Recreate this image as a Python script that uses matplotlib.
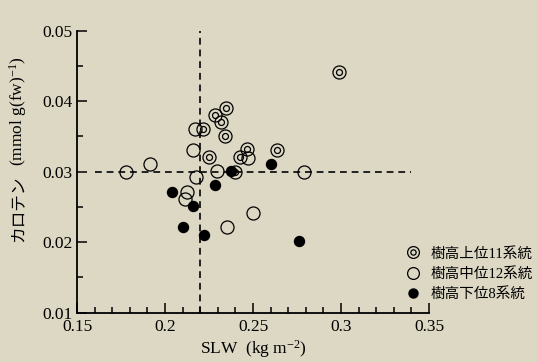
import numpy as np
import matplotlib.pyplot as plt
from matplotlib.lines import Line2D
from matplotlib.legend_handler import HandlerTuple
from matplotlib.ticker import MultipleLocator

plt.rcParams['mathtext.fontset'] = 'custom'
plt.rcParams['mathtext.rm'] = 'Liberation Serif'
plt.rcParams['mathtext.it'] = 'Liberation Serif:italic'

# upper 11 lines (double circle)
slw_top = [0.299, 0.2347, 0.2284, 0.232, 0.2218, 0.2341, 0.225, 0.2464, 0.2426, 0.2634, 0.2395]
car_top = [0.0441, 0.0391, 0.0381, 0.0371, 0.0361, 0.0351, 0.0321, 0.0332, 0.0321, 0.0331, 0.0300]
# middle 12 lines (open circle)
slw_mid = [0.1778, 0.1915, 0.2169, 0.2161, 0.2294, 0.2174, 0.2123, 0.2114, 0.2354, 0.2502, 0.2791, 0.2473]
car_mid = [0.0300, 0.0311, 0.0361, 0.0331, 0.0301, 0.0293, 0.0271, 0.0261, 0.0221, 0.0241, 0.0300, 0.0320]
# lower 8 lines (filled)
slw_low = [0.2038, 0.2161, 0.2104, 0.2223, 0.2286, 0.2375, 0.2602, 0.2763]
car_low = [0.0271, 0.0251, 0.0221, 0.0210, 0.0281, 0.0301, 0.0311, 0.0201]

labels = ['樹高上位11系統', '樹高中位12系統', '樹高下位8系統']
slw_mean = 0.22
car_mean = 0.03

bg = '#DCD8C4'
serif = 'Liberation Serif'
mixed = ['Liberation Serif', 'Noto Sans CJK JP']

fig = plt.figure(figsize=(5.37, 3.62), dpi=100, facecolor=bg)
ax = fig.add_axes([0.1434, 0.1362, 0.6555, 0.779])
ax.set_facecolor(bg)

# reference lines
ax.axvline(slw_mean, color='#222222', lw=1.4, ls=(0, (3.5, 2.5)), zorder=1)
ax.axhline(car_mean, xmin=0.05, xmax=0.95, color='#222222', lw=1.4, ls=(0, (3.5, 2.5)), zorder=1)

ms_out, ms_in, ms_fill = 9.4, 4.3, 7.2
ax.plot(slw_top, car_top, 'o', ms=ms_out, mfc='none', mec='black', mew=0.9, zorder=2)
ax.plot(slw_top, car_top, 'o', ms=ms_in, mfc='none', mec='black', mew=0.9, zorder=2)
ax.plot(slw_mid, car_mid, 'o', ms=ms_out, mfc='none', mec='black', mew=0.9, zorder=2)
ax.plot(slw_low, car_low, 'o', ms=ms_fill, mfc='black', mec='black', zorder=3)

ax.set_xlim(0.15, 0.35)
ax.set_ylim(0.01, 0.05)
ax.xaxis.set_minor_locator(MultipleLocator(0.01))
ax.yaxis.set_minor_locator(MultipleLocator(0.005))
ax.set_xticks([0.15, 0.2, 0.25, 0.3, 0.35])
ax.set_xticklabels(['0.15', '0.2', '0.25', '0.3', '0.35'])
ax.set_yticks([0.01, 0.02, 0.03, 0.04, 0.05])
ax.set_yticklabels(['0.01', '0.02', '0.03', '0.04', '0.05'])
ax.tick_params(which='major', direction='in', length=7.5, width=1.1, labelsize=12.5)
ax.tick_params(which='minor', direction='in', length=4, width=1.1)
ax.tick_params(axis='x', which='major', pad=4.5)
ax.tick_params(axis='y', which='major', pad=3)
for lab in ax.get_xticklabels() + ax.get_yticklabels():
    lab.set_family(serif)
for s in ['top', 'right']:
    ax.spines[s].set_visible(False)
for s in ['left', 'bottom']:
    ax.spines[s].set_linewidth(1.3)

ax.set_xlabel('SLW  (kg m$^{-2}$)', family=serif, fontsize=12.5, labelpad=2.5)

# y label: Japanese part in gothic, unit part in serif
fig.text(18 / 537, 1 - 209 / 362, 'カロテン', family='Noto Sans CJK JP', fontsize=12,
         rotation=90, ha='center', va='center')
fig.text(18 / 537, 1 - 111 / 362, '(mmol g(fw)$^{-1}$)', family=serif, fontsize=12.5,
         rotation=90, ha='center', va='center')

h_top = (Line2D([], [], ls='none', marker='o', ms=8.5, mfc='none', mec='black', mew=0.9),
         Line2D([], [], ls='none', marker='o', ms=3.8, mfc='none', mec='black', mew=0.9))
h_mid = Line2D([], [], ls='none', marker='o', ms=8.5, mfc='none', mec='black', mew=0.9)
h_low = Line2D([], [], ls='none', marker='o', ms=6.5, mfc='black', mec='black')
leg = fig.legend([h_top, h_mid, h_low], labels, handler_map={tuple: HandlerTuple(ndivide=1)},
                 loc='upper left', bbox_to_anchor=(0.742, 0.335), frameon=False,
                 prop={'family': mixed, 'size': 10.5}, handlelength=1.2, handletextpad=0.6,
                 labelspacing=0.45, borderaxespad=0)

fig.savefig('out.png', dpi=100, facecolor=bg)
